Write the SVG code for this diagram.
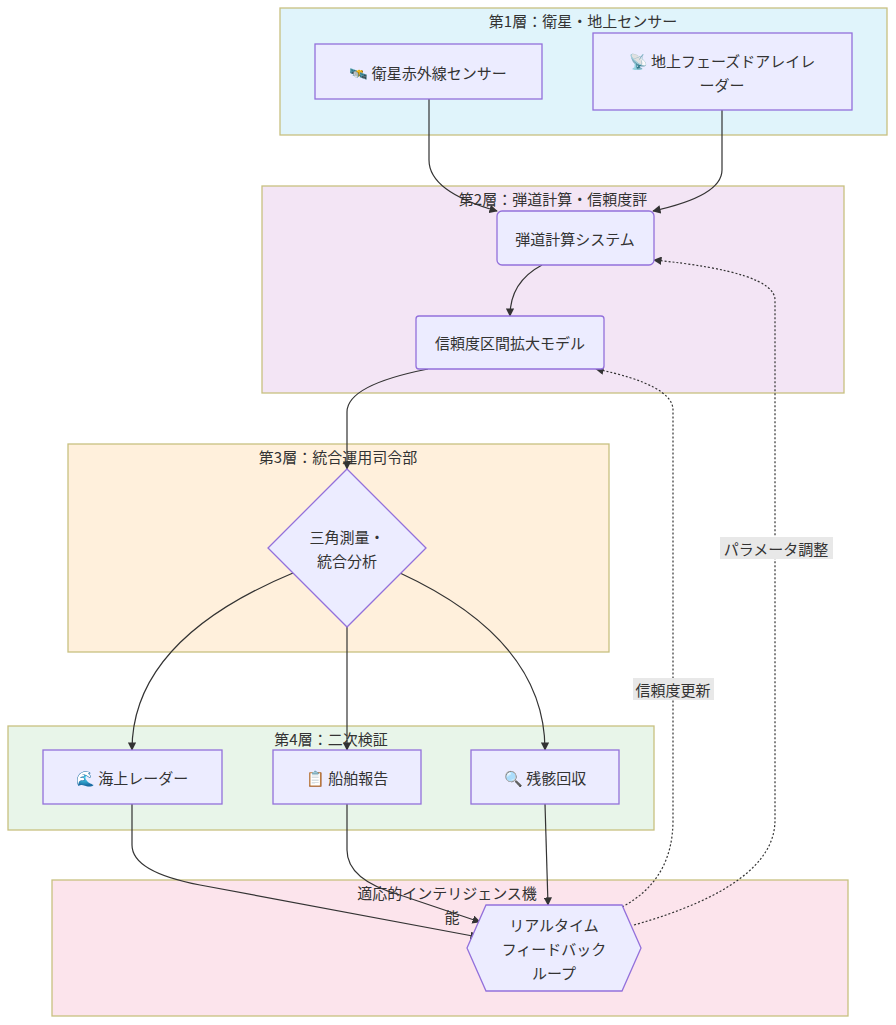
<svg xmlns="http://www.w3.org/2000/svg" width="896" height="1025" viewBox="0 0 896 1025">
<defs>
<marker id="ah" viewBox="0 0 10 10" refX="9" refY="5" markerWidth="7" markerHeight="7" orient="auto"><path d="M0,0 L10,5 L0,10 z" fill="#333"/></marker>
<style>
text{font-family:"Noto Sans CJK JP","Liberation Sans",sans-serif;font-size:15px;fill:#333;text-anchor:middle;dominant-baseline:central}
.cl{stroke:#c8c080;stroke-width:1.3}
.n{fill:#ECECFF;stroke:#9370DB;stroke-width:1.3}
.e{fill:none;stroke:#333;stroke-width:1.2}
.d{stroke-dasharray:2,2}
.lb{fill:#e8e8e8}
</style>
</defs>
<rect width="896" height="1025" fill="#fff"/>
<g id="clusters">
<rect class="cl" x="280" y="8" width="607" height="127" fill="#e0f4fb"/><text x="583" y="20">第1層：衛星・地上センサー</text>
<rect class="cl" x="262" y="186" width="582" height="207" fill="#f3e5f5"/><text x="553" y="198">第2層：弾道計算・信頼度評</text>
<rect class="cl" x="68" y="444" width="541" height="208" fill="#fff0dc"/><text x="338" y="456">第3層：統合運用司令部</text>
<rect class="cl" x="8" y="726" width="646" height="104" fill="#e8f5e9"/><text x="331" y="738">第4層：二次検証</text>
<rect class="cl" x="52" y="880" width="796" height="136" fill="#fce4ec"/><text x="447" y="892">適応的インテリジェンス機</text><text x="452" y="916">能</text>
</g>
<g id="connectors">
<path class="e" d="M429,99 L429,160 Q429,192 497,211" marker-end="url(#ah)"/>
<path class="e" d="M722,110 L722,170 Q722,196 653,211" marker-end="url(#ah)"/>
<path class="e" d="M542,265 Q510,282 510,316" marker-end="url(#ah)"/>
<path class="e" d="M428,369 Q347,385 347,412 L347,469" marker-end="url(#ah)"/>
<path class="e" d="M293,573 Q132,640 132,750" marker-end="url(#ah)"/>
<path class="e" d="M347,627 L347,750" marker-end="url(#ah)"/>
<path class="e" d="M400,573 Q545,640 545,750" marker-end="url(#ah)"/>
<path class="e" d="M132,804 L132,845 Q132,872 200,885 L478,937" marker-end="url(#ah)"/>
<path class="e" d="M347,804 L347,850 Q347,880 400,895 L480,922" marker-end="url(#ah)"/>
<path class="e" d="M545,804 L548,905" marker-end="url(#ah)"/>
<path class="e d" d="M622,907 Q673,880 673,820 L673,410 Q673,385 596,369" marker-end="url(#ah)"/>
<path class="e d" d="M634,925 Q775,885 775,820 L775,300 Q775,272 654,260" marker-end="url(#ah)"/>
<rect class="lb" x="633" y="678" width="81" height="22"/><text x="673" y="689">信頼度更新</text>
<rect class="lb" x="720" y="537" width="113" height="22"/><text x="776" y="548">パラメータ調整</text>
</g>
<g id="sat"><rect class="n" x="315" y="44" width="227" height="55"/><text x="428" y="72">🛰️ 衛星赤外線センサー</text></g>
<g id="radar"><rect class="n" x="593" y="33" width="259" height="77"/><text x="722" y="60">📡 地上フェーズドアレイレ</text><text x="722" y="84">ーダー</text></g>
<g id="ballistic"><rect class="n" x="497" y="211" width="157" height="54" rx="5"/><text x="575" y="238">弾道計算システム</text></g>
<g id="conf"><rect class="n" x="416" y="316" width="188" height="53" rx="3"/><text x="510" y="342">信頼度区間拡大モデル</text></g>
<g id="diamond"><polygon class="n" points="347,469 426,548 347,627 268,548"/><text x="347" y="536">三角測量・</text><text x="347" y="560">統合分析</text></g>
<g id="sea"><rect class="n" x="43" y="750" width="179" height="54"/><text x="132" y="777">🌊 海上レーダー</text></g>
<g id="ship"><rect class="n" x="273" y="750" width="148" height="54"/><text x="347" y="777">📋 船舶報告</text></g>
<g id="debris"><rect class="n" x="471" y="750" width="148" height="54"/><text x="545" y="777">🔍 残骸回収</text></g>
<g id="hex"><polygon class="n" points="467,948 486,905 622,905 641,948 622,991 486,991"/><text x="554" y="924">リアルタイム</text><text x="554" y="948">フィードバック</text><text x="554" y="972">ループ</text></g>
</svg>
